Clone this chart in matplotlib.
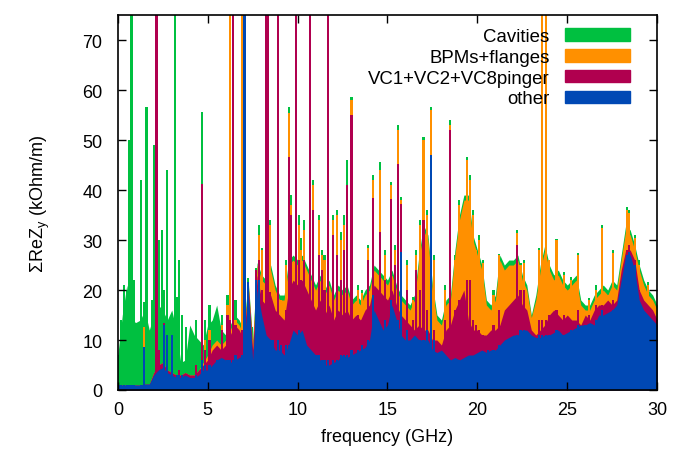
import numpy as np
import matplotlib
matplotlib.use("Agg")
import matplotlib.pyplot as plt
import matplotlib.patches as mpatches

plt.rcParams['font.family'] = ['Liberation Sans', 'DejaVu Sans']

# layer names / colours (bottom to top of the stack)
layer_names = ['other', 'VC1+VC2+VC8pinger', 'BPMs+flanges', 'Cavities']
layer_colors = ['#0048b4', '#b0004f', '#ff9000', '#00c040']

# "floor" of the spectrum every 0.25 GHz, cumulative tops of each layer
base_freq = np.arange(0, 30.01, 0.25)
base_other = [1, 1, 1, 1,  1, 1, 1.2, 1.2,  3, 4, 4.5, 3.5,  3, 2.5, 2.5, 3,
              2.5, 2.5, 3, 4,  4, 5, 6, 6.5,  6, 5.5, 6, 6.5,  7, 20, 6, 20,
              15, 11, 10, 8,  8, 7, 9, 12,  11, 12, 9, 8,  7, 6, 5, 5,
              5.5, 6, 7, 6.5,  7, 7.5, 8, 8.5,  10, 16, 14, 12,  13, 17, 14, 11,
              10, 10, 11, 10,  10, 10, 8, 7.5,  8, 7, 6, 6.5,  6, 6.5, 7, 7,
              7.5, 8, 7.5, 8,  8, 9, 10, 10.5,  11, 11, 12, 12,  11, 10.5, 10.5, 11,
              11, 11.5, 12, 11,  11.5, 12, 12.5, 13,  13, 13.5, 13, 15,  15, 15.5, 16, 17,
              22, 27, 27, 24,  18, 16, 15, 14,  13]
base_vc = [1, 1, 1, 1,  1, 1, 1.2, 1.2,  3.5, 5, 5.5, 4,  3.5, 3, 3, 3.5,
           3, 3, 4, 5,  6, 8, 9, 8,  9, 11, 13, 12,  10, 21, 8, 23,
           18, 17, 19, 16,  15, 14, 20, 22,  21, 22, 20, 18,  16, 18, 15, 17,
           14, 16, 15, 16,  14, 15, 14, 16,  17, 21, 20, 19,  18, 20, 17, 15,
           14, 13, 12, 13,  12, 12, 10, 10,  9, 12, 13, 16,  18, 20, 14, 12,
           12, 11, 11, 12,  12, 13, 16, 17,  18, 19, 17, 16,  12, 11, 12, 13,
           15, 16, 15, 14,  15, 14, 14, 13,  15, 14, 16, 17,  17, 18, 17, 18,
           24, 28, 28, 26,  20, 18, 17, 16,  14]
base_bpm = [1, 1, 1, 1,  1, 1, 1.2, 1.2,  3.5, 5, 5.5, 4,  3.5, 3, 3, 3.5,
            3, 3, 4, 5.5,  7, 9, 10, 9,  10, 12, 14, 13,  11, 21.5, 9, 25,
            22, 21, 24, 20,  18, 18, 25, 26,  25, 26, 24, 22,  20, 22, 19, 21,
            18, 20, 19, 20,  17, 18, 17, 19,  20, 24, 23, 22,  21, 23, 20, 18,
            17, 16, 18, 26,  32, 30, 20, 14,  13, 17, 18, 27,  34, 38, 38, 30,
            27, 24, 17, 16,  18, 26, 24, 25,  25, 26, 22, 20,  14.5, 18, 24, 28,
            24, 22, 23, 21,  20, 21, 22, 17,  16, 16, 18, 19,  20, 19, 21, 20,
            26, 32, 31, 28,  24, 21, 19, 18,  16]
base_cav = [7, 15, 21, 14,  13.5, 14, 16, 12,  15, 17, 16, 14,  16, 12, 5.5, 6,
            13, 11, 10, 9,  13, 14, 17, 12,  11, 13, 15, 14,  12, 22, 10, 25.5,
            23, 22, 25, 21,  19, 19, 26, 27,  26, 27, 25, 23,  21, 23, 20, 22,
            19, 21, 20, 21,  18, 19, 18, 20,  21, 25, 24, 23,  22, 24, 21, 19,
            18, 17, 19, 27,  33, 31, 21, 15,  14, 18, 19, 28,  35, 39, 39, 31,
            28, 25, 18, 17,  19, 27, 25, 26,  26, 27, 23, 21,  15, 19, 25, 29,
            25, 23, 24, 22,  21, 22, 23, 18,  17, 17, 19, 20,  21, 20, 22, 21,
            27, 33, 32, 29,  25, 22, 20, 19,  17]

# resonance peaks: frequency and cumulative tops (other, +VC, +BPM, +cavities)
peak_freq = [0.05, 0.2, 0.35, 0.5, 0.65, 0.76, 0.9, 1.28, 1.45, 1.6, 1.75, 1.9, 2.0, 2.15,
             2.3, 2.45, 2.55, 2.75, 3.0, 3.17, 3.3, 3.42, 3.55, 3.8, 4.35, 4.67, 4.85, 5.1,
             5.5, 5.8, 6.1, 6.25, 6.4, 6.55, 6.9, 7.05,
             7.25, 7.45, 7.7, 7.85, 8.0, 8.25, 8.35, 8.45, 8.6, 8.9, 9.1, 9.35, 9.5, 9.65,
             9.9, 10.1, 10.2, 10.35, 10.7, 10.85, 11.05, 11.2, 11.35, 11.5, 11.7, 11.95, 12.2,
             12.4, 12.6, 12.75, 13.0, 13.35, 13.6, 13.9, 14.2,
             14.6, 14.85, 15.2, 15.4, 15.6, 15.75, 16.1, 16.4, 16.6, 16.8, 17.0, 17.2, 17.4,
             17.6, 17.9, 18.2, 18.5, 18.75, 19.0, 19.2, 19.4, 19.6, 19.75, 19.9, 20.1, 20.3,
             20.6, 20.9, 21.2,
             21.6, 22.2, 22.4, 22.6, 22.8, 23.45, 23.6, 23.8, 24.0, 24.4, 24.8, 25.2, 25.6,
             26.0, 26.2, 26.6, 26.95, 27.3, 27.55, 27.9, 28.3, 28.45, 28.75, 29.0, 29.2,
             29.5, 29.8]
peak_other = [1, 1, 1, 1, 1, 1, 1, 1, 8.6, 1, 1, 1, 1.5, 2,
              3, 3, 13, 11, 11, 2, 3, 3, 3, 2, 3, 6, 5, 5,
              6, 5, 6, 6, 6, 7, 7, 100,
              21.6, 6, 22, 22, 14, 10, 10, 10, 10, 10, 9, 9, 9, 9,
              8, 12, 8, 8, 7, 7, 7, 7, 6, 6, 6, 6, 6,
              7, 7, 7, 8, 8, 9, 10, 19,
              12, 14, 18, 12, 14, 27.6, 12, 10, 10, 10, 10, 12, 47,
              10, 6, 6, 6, 6, 6, 6, 6, 6, 6, 7, 7, 7,
              8, 8, 9,
              9, 11, 12, 12, 11, 11, 11, 11, 11, 12, 11, 12, 13,
              13, 13, 14, 16, 15, 16, 16, 27, 27.6, 25, 17, 16,
              14, 13]
peak_vc = [1, 1, 1, 1, 1, 1, 1, 1, 8.6, 1, 1, 1, 1.5, 100,
           8, 5, 13.5, 11, 11, 2, 3, 4, 3, 3, 5, 41.3, 8, 10,
           8, 12, 15, 14, 100, 13, 12, 100,
           21.6, 8, 24, 26, 20, 100, 100, 19.6, 14, 100, 14, 16, 46.6, 35,
           100, 26, 22, 26, 100, 36, 14, 27, 24, 20, 100, 31, 27,
           22, 28, 41, 55, 15, 14, 26, 38.4,
           31.6, 22, 38.3, 25, 45.3, 37.3, 20, 14, 24, 20, 34, 16, 47,
           12, 8, 14, 52, 16, 18, 15, 22, 22, 14, 13, 12, 11,
           11, 13, 16,
           14, 29, 20, 20, 14, 14, 14, 14, 15, 16, 15, 14, 16,
           14, 15, 17, 17, 17, 18, 17, 28, 29, 26, 20, 18,
           16, 15]
peak_bpm = [1, 1, 1, 1, 1, 1, 1, 1, 12.6, 1, 1, 1, 1.5, 100,
            8, 5, 13.5, 11, 11, 2, 3, 4, 3, 3, 5, 41.3, 10, 12,
            9, 13, 17, 100, 100, 14, 100, 100,
            21.6, 10, 24, 31, 28, 100, 100, 33, 20, 100, 18, 25, 55.5, 37,
            100, 33, 28, 32, 100, 41, 17, 34, 27, 26, 100, 34, 35,
            30, 33, 41, 58, 20, 19.5, 28.5, 42,
            44, 27, 41, 28, 52, 38, 25, 18, 27, 33, 50, 35, 56,
            26, 13, 20, 53, 26, 37, 32, 46, 42, 35, 28, 30, 25.5,
            14.5, 19, 27,
            22, 31.5, 25, 25.5, 18, 28, 100, 100, 26, 30, 23, 22, 27,
            15, 18, 20, 32.5, 19, 27.5, 20.5, 36, 35.5, 30.5, 25, 21,
            21, 16]
peak_cav = [7, 14, 21, 20, 50, 100, 22, 42, 17.6, 56.6, 10, 18, 49, 100,
            30, 32, 20, 44, 15, 100, 18.6, 26, 15, 12.6, 14, 55.7, 14, 17,
            12, 15, 19, 100, 100, 18, 100, 100,
            22.5, 12.6, 24.5, 33, 28.5, 100, 100, 34, 21, 100, 18.5, 26, 56.6, 39,
            100, 35, 30.5, 34, 100, 42, 18, 35, 28, 27, 100, 35, 36,
            31.6, 35, 46, 58.6, 21, 20, 29, 43,
            45.6, 28, 41.7, 29, 53, 38.6, 26, 18.6, 28, 34, 50.7, 36, 56.6,
            27, 13.5, 21, 54, 27, 38, 33, 46.6, 43, 36, 28.6, 31, 26,
            15, 20, 27.3,
            23, 32, 25.5, 26, 18.5, 28.5, 100, 100, 25, 30.3, 23.6, 22.7, 27.5,
            15.5, 18.5, 21, 33, 19.6, 28, 21, 36.6, 36, 31, 26, 21.6,
            21.6, 16.6]

fig = plt.figure(figsize=(6.81, 4.6), dpi=100)
ax = fig.add_axes([0.173, 0.15, 0.792, 0.815])

base_layers = [base_other, base_vc, base_bpm, base_cav]
peak_layers = [peak_other, peak_vc, peak_bpm, peak_cav]

# draw the top layer first, every lower layer painted over it
for i in [3, 2, 1, 0]:
    ax.fill_between(base_freq, 0, base_layers[i], color=layer_colors[i], lw=0)
    ax.bar(peak_freq, peak_layers[i], width=0.12, color=layer_colors[i], lw=0)

ax.set_xlim(0, 30)
ax.set_ylim(0, 75)
ax.set_xticks(np.arange(0, 31, 5))
ax.set_yticks(np.arange(0, 71, 10))
ax.tick_params(direction='in', length=6, width=1, top=True, right=True,
               labelsize=13, pad=8)
ax.tick_params(axis='y', pad=11)
for s in ax.spines.values():
    s.set_linewidth(1.2)

ax.set_xlabel('frequency (GHz)', fontsize=13, labelpad=7)
ax.set_ylabel('ΣReZ$_\\mathregular{y}$ (kOhm/m)', fontsize=13, labelpad=22)

handles = [mpatches.Patch(color=layer_colors[i], label=layer_names[i]) for i in [3, 2, 1, 0]]
ax.legend(handles=handles, loc='upper right', bbox_to_anchor=(0.963, 0.985),
          frameon=False, markerfirst=False, fontsize=13.4, handlelength=3.5,
          handleheight=0.65, labelspacing=0.2, handletextpad=0.8, borderaxespad=0)

fig.savefig('out.png', dpi=100)
